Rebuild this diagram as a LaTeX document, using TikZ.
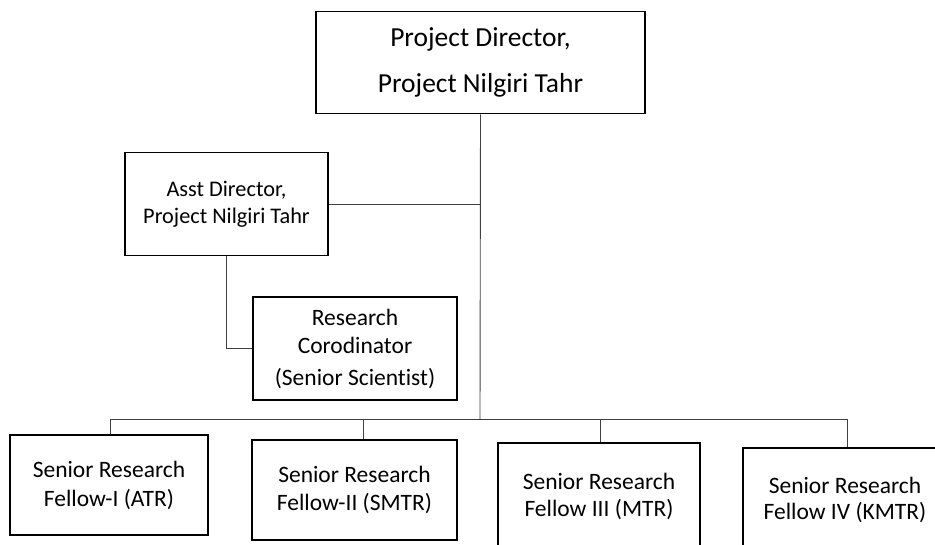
\documentclass[tikz,border=0pt]{standalone}
\usepackage{fontspec}
\setmainfont[Ligatures=NoCommon]{Carlito}
\begin{document}
\begin{tikzpicture}[x=1pt,y=-1pt,
  box/.style={draw=black, line width=1.6pt, fill=white, align=center, inner sep=0pt, text=black},
  conn/.style={draw=black!75, line width=0.9pt}]
\useasboundingbox (0,0) rectangle (935,544);
\clip (0,0) rectangle (935,544);
% nodes
\node[box, minimum width=329pt, minimum height=102pt,
      font=\fontsize{27.5}{46}\selectfont] (pd) at (480.5,62.5)
  {Project Director,\\Project Nilgiri Tahr};
\node[box, minimum width=203pt, minimum height=103pt,
      font=\fontsize{22.3}{27}\selectfont] (ad) at (226.5,204)
  {Asst Director,\\Project Nilgiri Tahr};
\node[box, minimum width=204pt, minimum height=103pt,
      font=\fontsize{23.5}{28}\selectfont] (rc) at (355,348.5)
  {Research\\Corodinator\\[4pt](Senior Scientist)};
\node[box, minimum width=198pt, minimum height=100pt,
      font=\fontsize{23.5}{29}\selectfont] (f1) at (109,485)
  {Senior Research\\Fellow-I (ATR)};
\node[box, minimum width=205pt, minimum height=100pt,
      font=\fontsize{23.5}{28}\selectfont] (f2) at (354.5,490)
  {Senior Research\\Fellow-II (SMTR)};
\node[box, minimum width=202pt, minimum height=106pt,
      font=\fontsize{23.5}{27}\selectfont] (f3) at (599,496)
  {Senior Research\\Fellow III (MTR)};
\node[box, minimum width=204pt, minimum height=104pt,
      font=\fontsize{23.5}{26}\selectfont] (f4) at (845,500)
  {Senior Research\\Fellow IV (KMTR)};
% connectors
\coordinate (bus) at (480,419);
\draw[conn] (pd.south) -- (bus);
\draw[conn] (ad.east) -- (ad.east -| pd.south);
\draw[conn] (ad.south) |- (rc.west);
\draw[conn] ([xshift=1pt]f1.north |- bus) -- ([xshift=2pt]f4.north |- bus);
\draw[conn] ([xshift=1pt]f1.north |- bus) -- ([xshift=1pt]f1.north);
\draw[conn] ([xshift=8.5pt]f2.north |- bus) -- ([xshift=8.5pt]f2.north);
\draw[conn] ([xshift=1pt]f3.north |- bus) -- ([xshift=1pt]f3.north);
\draw[conn] ([xshift=2pt]f4.north |- bus) -- ([xshift=2pt]f4.north);
\end{tikzpicture}
\end{document}
